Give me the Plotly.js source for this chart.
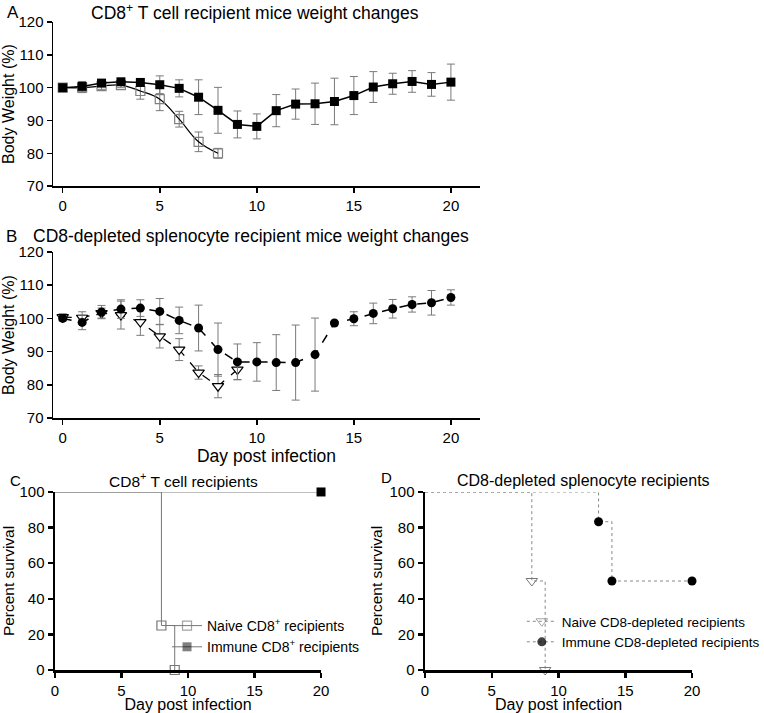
<!DOCTYPE html>
<html><head><meta charset="utf-8">
<script src="https://cdn.plot.ly/plotly-3.0.1.min.js"></script>
<style>html,body{margin:0;padding:0;background:#fff}</style>
</head><body>
<div id="chart" style="width:764px;height:713px"></div>
<script>
// Panel A: CD8+ T cell recipients, body weight (%)
const daysA_naive = [0,1,2,3,4,5,6,7,8];
const weightA_naive = [100,100,100.5,100.8,99,96.5,90.4,83.5,80];
const errA_naive = [0,1.5,1,0.8,2.5,3.5,2.4,3,1.5];
const daysA_immune = [0,1,2,3,4,5,6,7,8,9,10,11,12,13,14,15,16,17,18,19,20];
const weightA_immune = [100,100.4,101.4,101.8,101.6,100.9,99.8,97.1,93.1,88.8,88.2,93,95,95.1,95.8,97.6,100.2,101.2,101.9,101,101.7];
const errA_immune = [0,1.5,1,1,1,2.7,2.6,5.3,7,4.1,3.8,4.9,4.6,6.3,7.1,5.8,4.7,3.2,3.3,3.6,5.5];

// Panel B: CD8-depleted splenocyte recipients, body weight (%)
const daysB_naive = [0,1,2,3,4,5,6,7,8,9];
const weightB_naive = [100.4,100.2,101.6,101,98.9,94.6,90.6,83.7,79.6,84.6];
const errB_naive = [1,1.8,1.5,4.2,4,3.5,3.3,2,3.5,3];
const daysB_immune = [0,1,2,3,4,5,6,7,8,9,10,11,12,13,14,15,16,17,18,19,20];
const weightB_immune = [100,98.8,101.9,102.8,103.1,102.1,99.4,97.1,90.6,86.9,86.9,86.7,86.7,89.1,98.6,99.9,101.5,102.9,104.2,104.7,106.3];
const errB_immune = [0.8,2.2,2,2.8,2.5,3.9,4,6.9,8,5.4,5.8,8.4,11.3,11,0.5,2.1,3.1,2.8,2.3,3.7,2.3];

// Panel C: survival, CD8+ T cell recipients
const survC_naive_days = [0,8,9];
const survC_naive_pct = [100,25,0];
const survC_naive_shown = [0,1,1];
const survC_immune_days = [0,20];
const survC_immune_pct = [100,100];
const survC_immune_shown = [0,1];

// Panel D: survival, CD8-depleted splenocyte recipients
const survD_naive_days = [0,8,9];
const survD_naive_pct = [100,50,0];
const survD_naive_shown = [0,1,1];
const survD_immune_days = [0,13,14,20];
const survD_immune_pct = [100,83.3,50,50];
const survD_immune_shown = [0,1,1,1];

const FONT = 'Arial, "Liberation Sans", sans-serif';
const errStyle = {type:'data', visible:true, color:'#7a7a7a', thickness:1, width:4};

const traces = [
  {x:daysA_naive, y:weightA_naive, error_y:Object.assign({array:errA_naive}, errStyle),
   mode:'lines+markers', line:{color:'#000', width:1.2, shape:'spline', smoothing:1.1},
   marker:{symbol:'square-open', size:9, color:'#808080', line:{width:1.2}},
   xaxis:'x', yaxis:'y', showlegend:false},
  {x:daysA_immune, y:weightA_immune, error_y:Object.assign({array:errA_immune}, errStyle),
   mode:'lines+markers', line:{color:'#000', width:1.5},
   marker:{symbol:'square', size:9, color:'#000'},
   xaxis:'x', yaxis:'y', showlegend:false},
  {x:daysB_naive, y:weightB_naive, error_y:Object.assign({array:errB_naive}, errStyle),
   mode:'lines+markers', line:{color:'#000', width:1.3, dash:'dash'},
   marker:{symbol:'triangle-down', size:10, color:'#fff', line:{width:1.2, color:'#000'}},
   xaxis:'x2', yaxis:'y2', showlegend:false},
  {x:daysB_immune, y:weightB_immune, error_y:Object.assign({array:errB_immune}, errStyle),
   mode:'lines+markers', line:{color:'#000', width:1.5, dash:'dash'},
   marker:{symbol:'circle', size:9, color:'#000'},
   xaxis:'x2', yaxis:'y2', showlegend:false},
  {x:survC_naive_days, y:survC_naive_pct, name:'Naive CD8<sup>+</sup> recipients',
   mode:'lines+markers', line:{color:'#777', width:1, shape:'hv'}, cliponaxis:false,
   marker:{symbol:'square-open', size:9, color:'#777', opacity:survC_naive_shown, line:{width:1.2}},
   xaxis:'x3', yaxis:'y3', legend:'legend'},
  {x:survC_immune_days, y:survC_immune_pct, name:'Immune CD8<sup>+</sup> recipients',
   mode:'lines+markers', line:{color:'#777', width:1, shape:'hv'}, cliponaxis:false,
   marker:{symbol:'square', size:9, color:'#000', opacity:survC_immune_shown},
   xaxis:'x3', yaxis:'y3', legend:'legend'},
  {x:survD_naive_days, y:survD_naive_pct, name:'Naive CD8-depleted recipients',
   mode:'lines+markers', line:{color:'#888', width:1, shape:'hv', dash:'dot'}, cliponaxis:false,
   marker:{symbol:'triangle-down-open', size:10, color:'#777', opacity:survD_naive_shown, line:{width:1}},
   xaxis:'x4', yaxis:'y4', legend:'legend2'},
  {x:survD_immune_days, y:survD_immune_pct, name:'Immune CD8-depleted recipients',
   mode:'lines+markers', line:{color:'#888', width:1, shape:'hv', dash:'dot'}, cliponaxis:false,
   marker:{symbol:'circle', size:9, color:'#000', opacity:survD_immune_shown},
   xaxis:'x4', yaxis:'y4', legend:'legend2'}
];

function xax(domain, range, anchor, lw, fs, title) {
  const a = {domain:domain, range:range, anchor:anchor, tickvals:[0,5,10,15,20],
    showline:true, linecolor:'#000', linewidth:lw, ticks:'outside', ticklen:5, tickwidth:lw,
    tickcolor:'#000', showgrid:false, zeroline:false, fixedrange:true, automargin:false,
    tickfont:{family:FONT, size:fs, color:'#000'}};
  if (title) a.title = title;
  return a;
}
function yax(domain, range, dtick, anchor, lw, fs, title) {
  return {domain:domain, range:range, dtick:dtick, anchor:anchor,
    showline:true, linecolor:'#000', linewidth:lw, ticks:'outside', ticklen:5, tickwidth:lw,
    tickcolor:'#000', showgrid:false, zeroline:false, fixedrange:true, automargin:false,
    tickfont:{family:FONT, size:fs, color:'#000'}, title:title};
}

const layout = {
  width:764, height:713, margin:{l:0,r:0,t:0,b:0,autoexpand:false},
  paper_bgcolor:'#fff', plot_bgcolor:'rgba(0,0,0,0)',
  font:{family:FONT, color:'#000'},
  xaxis: xax([0.0694,0.6283], [-0.5,21.5], 'y', 1.5, 15),
  yaxis: yax([0.739,0.969], [70,120], 10, 'x', 1.5, 15, {text:'Body Weight (%)', font:{size:16}, standoff:4}),
  xaxis2: xax([0.0694,0.6283], [-0.5,21.5], 'y2', 1.5, 15, {text:'Day post infection', font:{size:17.5}, standoff:4}),
  yaxis2: yax([0.4137,0.6466], [70,120], 10, 'x2', 1.5, 15, {text:'Body Weight (%)', font:{size:16}, standoff:4}),
  xaxis3: xax([0.072,0.4202], [0,20], 'y3', 2.5, 15, {text:'Day post infection', font:{size:16}, standoff:3}),
  yaxis3: yax([0.0603,0.31], [0,100], 20, 'x3', 2.5, 15, {text:'Percent survival', font:{size:15.5}, standoff:3}),
  xaxis4: xax([0.5563,0.9058], [0,20], 'y4', 2.5, 15, {text:'Day post infection', font:{size:16}, standoff:3}),
  yaxis4: yax([0.0603,0.31], [0,100], 20, 'x4', 2.5, 15, {text:'Percent survival', font:{size:15.5}, standoff:3}),
  legend: {x:0.2186, y:1-610/713, xanchor:'left', yanchor:'top', bgcolor:'rgba(0,0,0,0)',
    font:{family:FONT, size:14, color:'#000'}, itemwidth:30, tracegroupgap:0},
  legend2: {x:0.683, y:1-606/713, xanchor:'left', yanchor:'top', bgcolor:'rgba(0,0,0,0)',
    font:{family:FONT, size:13.5, color:'#000'}, itemwidth:30, tracegroupgap:0},
  annotations: [
    {text:'A', x:5/764, y:1-12/713, xref:'paper', yref:'paper', xanchor:'left', yanchor:'middle', showarrow:false, font:{size:17}},
    {text:'CD8<sup>+</sup> T cell recipient mice weight changes', x:255/764, y:1-12/713, xref:'paper', yref:'paper', xanchor:'center', yanchor:'middle', showarrow:false, font:{size:17.5}},
    {text:'B', x:4/764, y:1-236/713, xref:'paper', yref:'paper', xanchor:'left', yanchor:'middle', showarrow:false, font:{size:17}},
    {text:'CD8-depleted splenocyte recipient mice weight changes', x:251/764, y:1-236/713, xref:'paper', yref:'paper', xanchor:'center', yanchor:'middle', showarrow:false, font:{size:17.5}},
    {text:'C', x:8/764, y:1-480/713, xref:'paper', yref:'paper', xanchor:'left', yanchor:'middle', showarrow:false, font:{size:15}},
    {text:'CD8<sup>+</sup> T cell recipients', x:183/764, y:1-480/713, xref:'paper', yref:'paper', xanchor:'center', yanchor:'middle', showarrow:false, font:{size:15.5}},
    {text:'D', x:379/764, y:1-477/713, xref:'paper', yref:'paper', xanchor:'left', yanchor:'middle', showarrow:false, font:{size:15}},
    {text:'CD8-depleted splenocyte recipients', x:583/764, y:1-480/713, xref:'paper', yref:'paper', xanchor:'center', yanchor:'middle', showarrow:false, font:{size:16}}
  ]
};

Plotly.newPlot('chart', traces, layout, {displayModeBar:false, staticPlot:true});
</script>
</body></html>
